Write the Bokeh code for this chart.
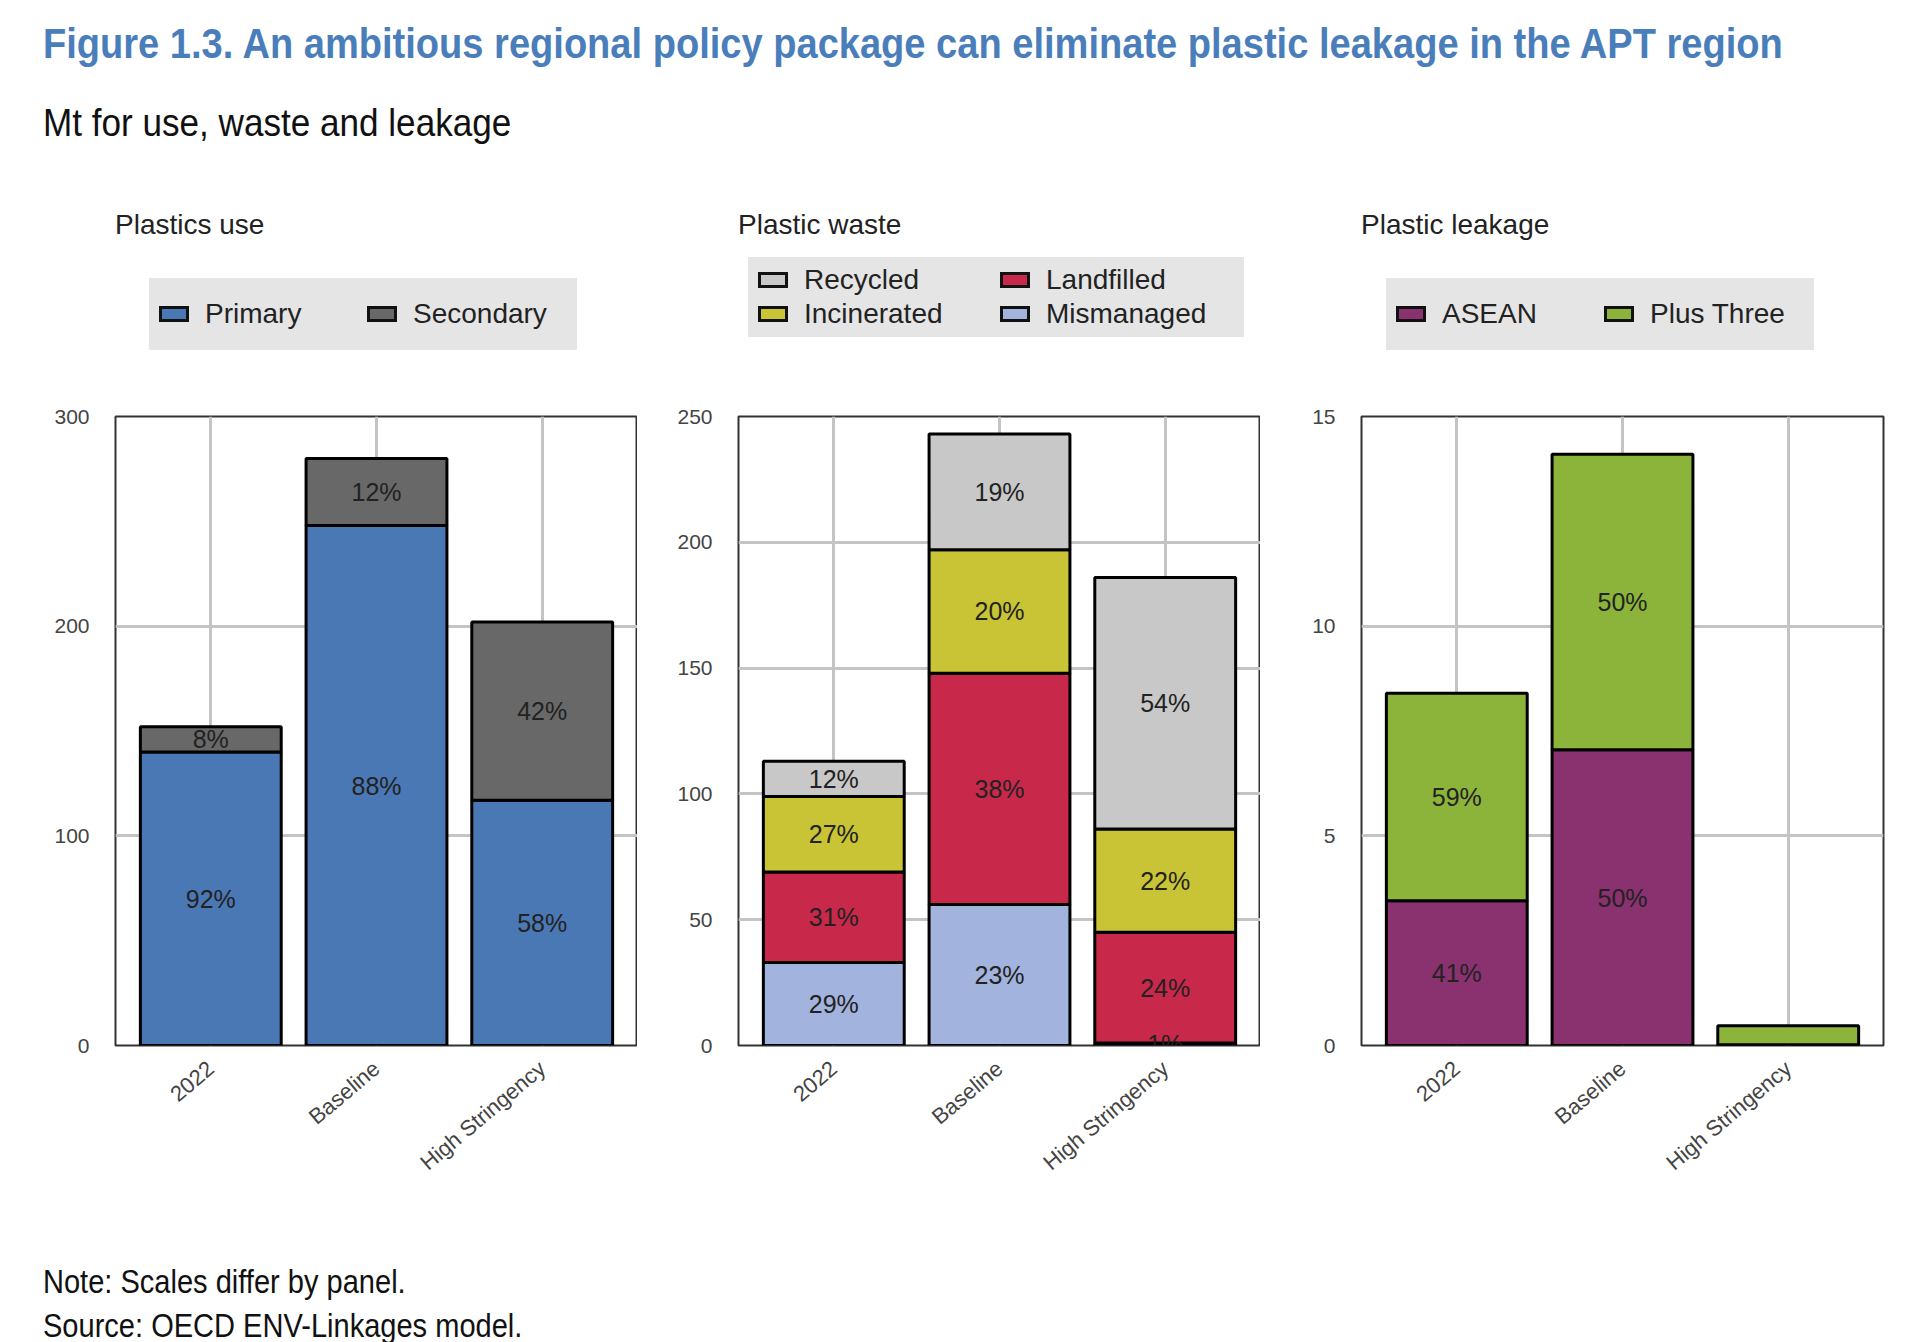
from bokeh.plotting import figure
from bokeh.models import Div, FactorRange, Range1d, FixedTicker, ColumnDataSource
from bokeh.layouts import column, row
from bokeh.embed import file_html
from bokeh.resources import INLINE
from bokeh.core.properties import value

scenarios = ["2022", "Baseline", "High Stringency"]

# Panel 1: plastics use (Mt)
use_primary = [140, 248, 117]
use_secondary = [12, 32, 85]
use_primary_lbl = ["92%", "88%", "58%"]
use_secondary_lbl = ["8%", "12%", "42%"]

# Panel 2: plastic waste (Mt)
waste_mismanaged = [33, 56, 1]
waste_landfilled = [36, 92, 44]
waste_incinerated = [30, 49, 41]
waste_recycled = [14, 46, 100]
waste_mismanaged_lbl = ["29%", "23%", "1%"]
waste_landfilled_lbl = ["31%", "38%", "24%"]
waste_incinerated_lbl = ["27%", "20%", "22%"]
waste_recycled_lbl = ["12%", "19%", "54%"]

# Panel 3: plastic leakage (Mt)
leak_asean = [3.45, 7.05, 0.02]
leak_plus3 = [4.95, 7.05, 0.45]
leak_asean_lbl = ["41%", "50%", ""]
leak_plus3_lbl = ["59%", "50%", ""]

FONT = "Liberation Sans"
CSSFONT = "'Liberation Sans', Arial, sans-serif"


def legend_html(title, entries, ncols, left, leg_left, leg_top, cell_w):
    cells = "".join(
        f'<div style="display:flex;align-items:center;height:34px;width:{cell_w}px">'
        f'<span style="display:inline-block;width:30px;height:16px;background:{c};border:3px solid #111;margin-right:16px"></span>'
        f'<span>{n}</span></div>' for n, c in entries)
    return (f'<div style="position:relative;width:100%;height:226px;font-family:{CSSFONT};color:#222">'
            f'<div style="position:absolute;left:{left}px;top:28px;font-size:28px;line-height:34px;white-space:nowrap">{title}</div>'
            f'<div style="position:absolute;left:{left + leg_left}px;top:{leg_top}px;background:#e5e5e5;padding:{"19px 10px" if ncols == 2 and len(entries) == 2 else "6px 10px"};'
            f'display:grid;grid-template-columns:repeat({ncols},auto);column-gap:8px;font-size:28px;white-space:nowrap">{cells}</div>'
            f'</div>')


def make_panel(title, series, names, colors, labels, ymax, step, entries, ncols, leg_left, leg_top, cell_w, left, right):
    p = figure(x_range=FactorRange(*scenarios), y_range=Range1d(0, ymax),
               frame_width=522, frame_height=629, output_backend="svg", toolbar_location=None,
               min_border_left=left, min_border_right=right, min_border_top=10, min_border_bottom=170)
    data = {"x": scenarios}
    for n, s in zip(names, series):
        data[n] = s
    src = ColumnDataSource(data)
    p.vbar_stack(names, x="x", width=0.85, source=src, color=colors,
                 line_color="black", line_width=3)
    base = [0] * 3
    for s, lab in zip(series, labels):
        mids = [b + v / 2 for b, v in zip(base, s)]
        base = [b + v for b, v in zip(base, s)]
        p.text(x=scenarios, y=mids, text=lab, text_align="center", text_baseline="middle",
               text_font=value(FONT), text_font_size="25px", text_color="#222222")
    p.yaxis.ticker = FixedTicker(ticks=list(range(0, ymax + 1, step)))
    p.yaxis.major_label_text_font = FONT
    p.yaxis.major_label_text_font_size = "21px"
    p.yaxis.major_label_text_color = "#444444"
    p.xaxis.major_label_text_font = FONT
    p.xaxis.major_label_text_font_size = "22px"
    p.xaxis.major_label_text_color = "#444444"
    p.xaxis.major_label_orientation = 0.7
    for ax in (p.xaxis, p.yaxis):
        ax.axis_line_color = None
        ax.major_tick_line_color = None
        ax.minor_tick_line_color = None
    p.yaxis.major_label_standoff = 20
    p.xaxis.major_label_standoff = 14
    p.grid.grid_line_color = "#c4c4c4"
    p.grid.grid_line_width = 3
    p.outline_line_color = "#333333"
    p.outline_line_width = 2
    p.x_range.range_padding = 0.05
    fw = left + 522 + right
    head = Div(text=legend_html(title, entries, ncols, left, leg_left, leg_top, cell_w), width=fw, height=226,
               styles={"margin": "0", "padding": "0"})
    return column(head, p, spacing=0)


c1 = make_panel("Plastics use", [use_primary, use_secondary], ["Primary", "Secondary"],
                ["#4a78b5", "#686868"], [use_primary_lbl, use_secondary_lbl], 300, 100,
                [("Primary", "#4a78b5"), ("Secondary", "#686868")], 2, 34, 98, 200, 115, 0)
c2 = make_panel("Plastic waste",
                [waste_mismanaged, waste_landfilled, waste_incinerated, waste_recycled],
                ["Mismanaged", "Landfilled", "Incinerated", "Recycled"],
                ["#a2b4de", "#c8284a", "#c8c435", "#c8c8c8"],
                [waste_mismanaged_lbl, waste_landfilled_lbl, waste_incinerated_lbl, waste_recycled_lbl],
                250, 50,
                [("Recycled", "#c8c8c8"), ("Landfilled", "#c8284a"),
                 ("Incinerated", "#c8c435"), ("Mismanaged", "#a2b4de")], 2, 10, 77, 234, 101, 0)
c3 = make_panel("Plastic leakage", [leak_asean, leak_plus3], ["ASEAN", "Plus Three"],
                ["#8a3170", "#8db43a"], [leak_asean_lbl, leak_plus3_lbl], 15, 5,
                [("ASEAN", "#8a3170"), ("Plus Three", "#8db43a")], 2, 25, 98, 200, 101, 16)

header = Div(text=f"""<div style="font-family:{CSSFONT};margin:0;padding:0">
<div style="color:#4a7ebb;font-weight:bold;font-size:43px;line-height:50px;margin-top:13px;margin-left:38px;white-space:nowrap;transform:scaleX(0.885);transform-origin:left">Figure 1.3. An ambitious regional policy package can eliminate plastic leakage in the APT region</div>
<div style="color:#111;font-size:39px;line-height:50px;margin-top:30px;margin-left:38px;white-space:nowrap;transform:scaleX(0.9);transform-origin:left">Mt for use, waste and leakage</div>
</div>""", width=1900, height=170)

footer = Div(text=f"""<div style="font-family:{CSSFONT};color:#111;font-size:33px;line-height:44px;margin-left:38px;margin-top:40px;transform:scaleX(0.88);transform-origin:left;white-space:nowrap">
Note: Scales differ by panel.<br>Source: OECD ENV-Linkages model.</div>""", width=1900, height=120)

layout = column(header, row(c1, c2, c3, spacing=0), footer, spacing=0)
open("out.html", "w").write(file_html(layout, INLINE))
